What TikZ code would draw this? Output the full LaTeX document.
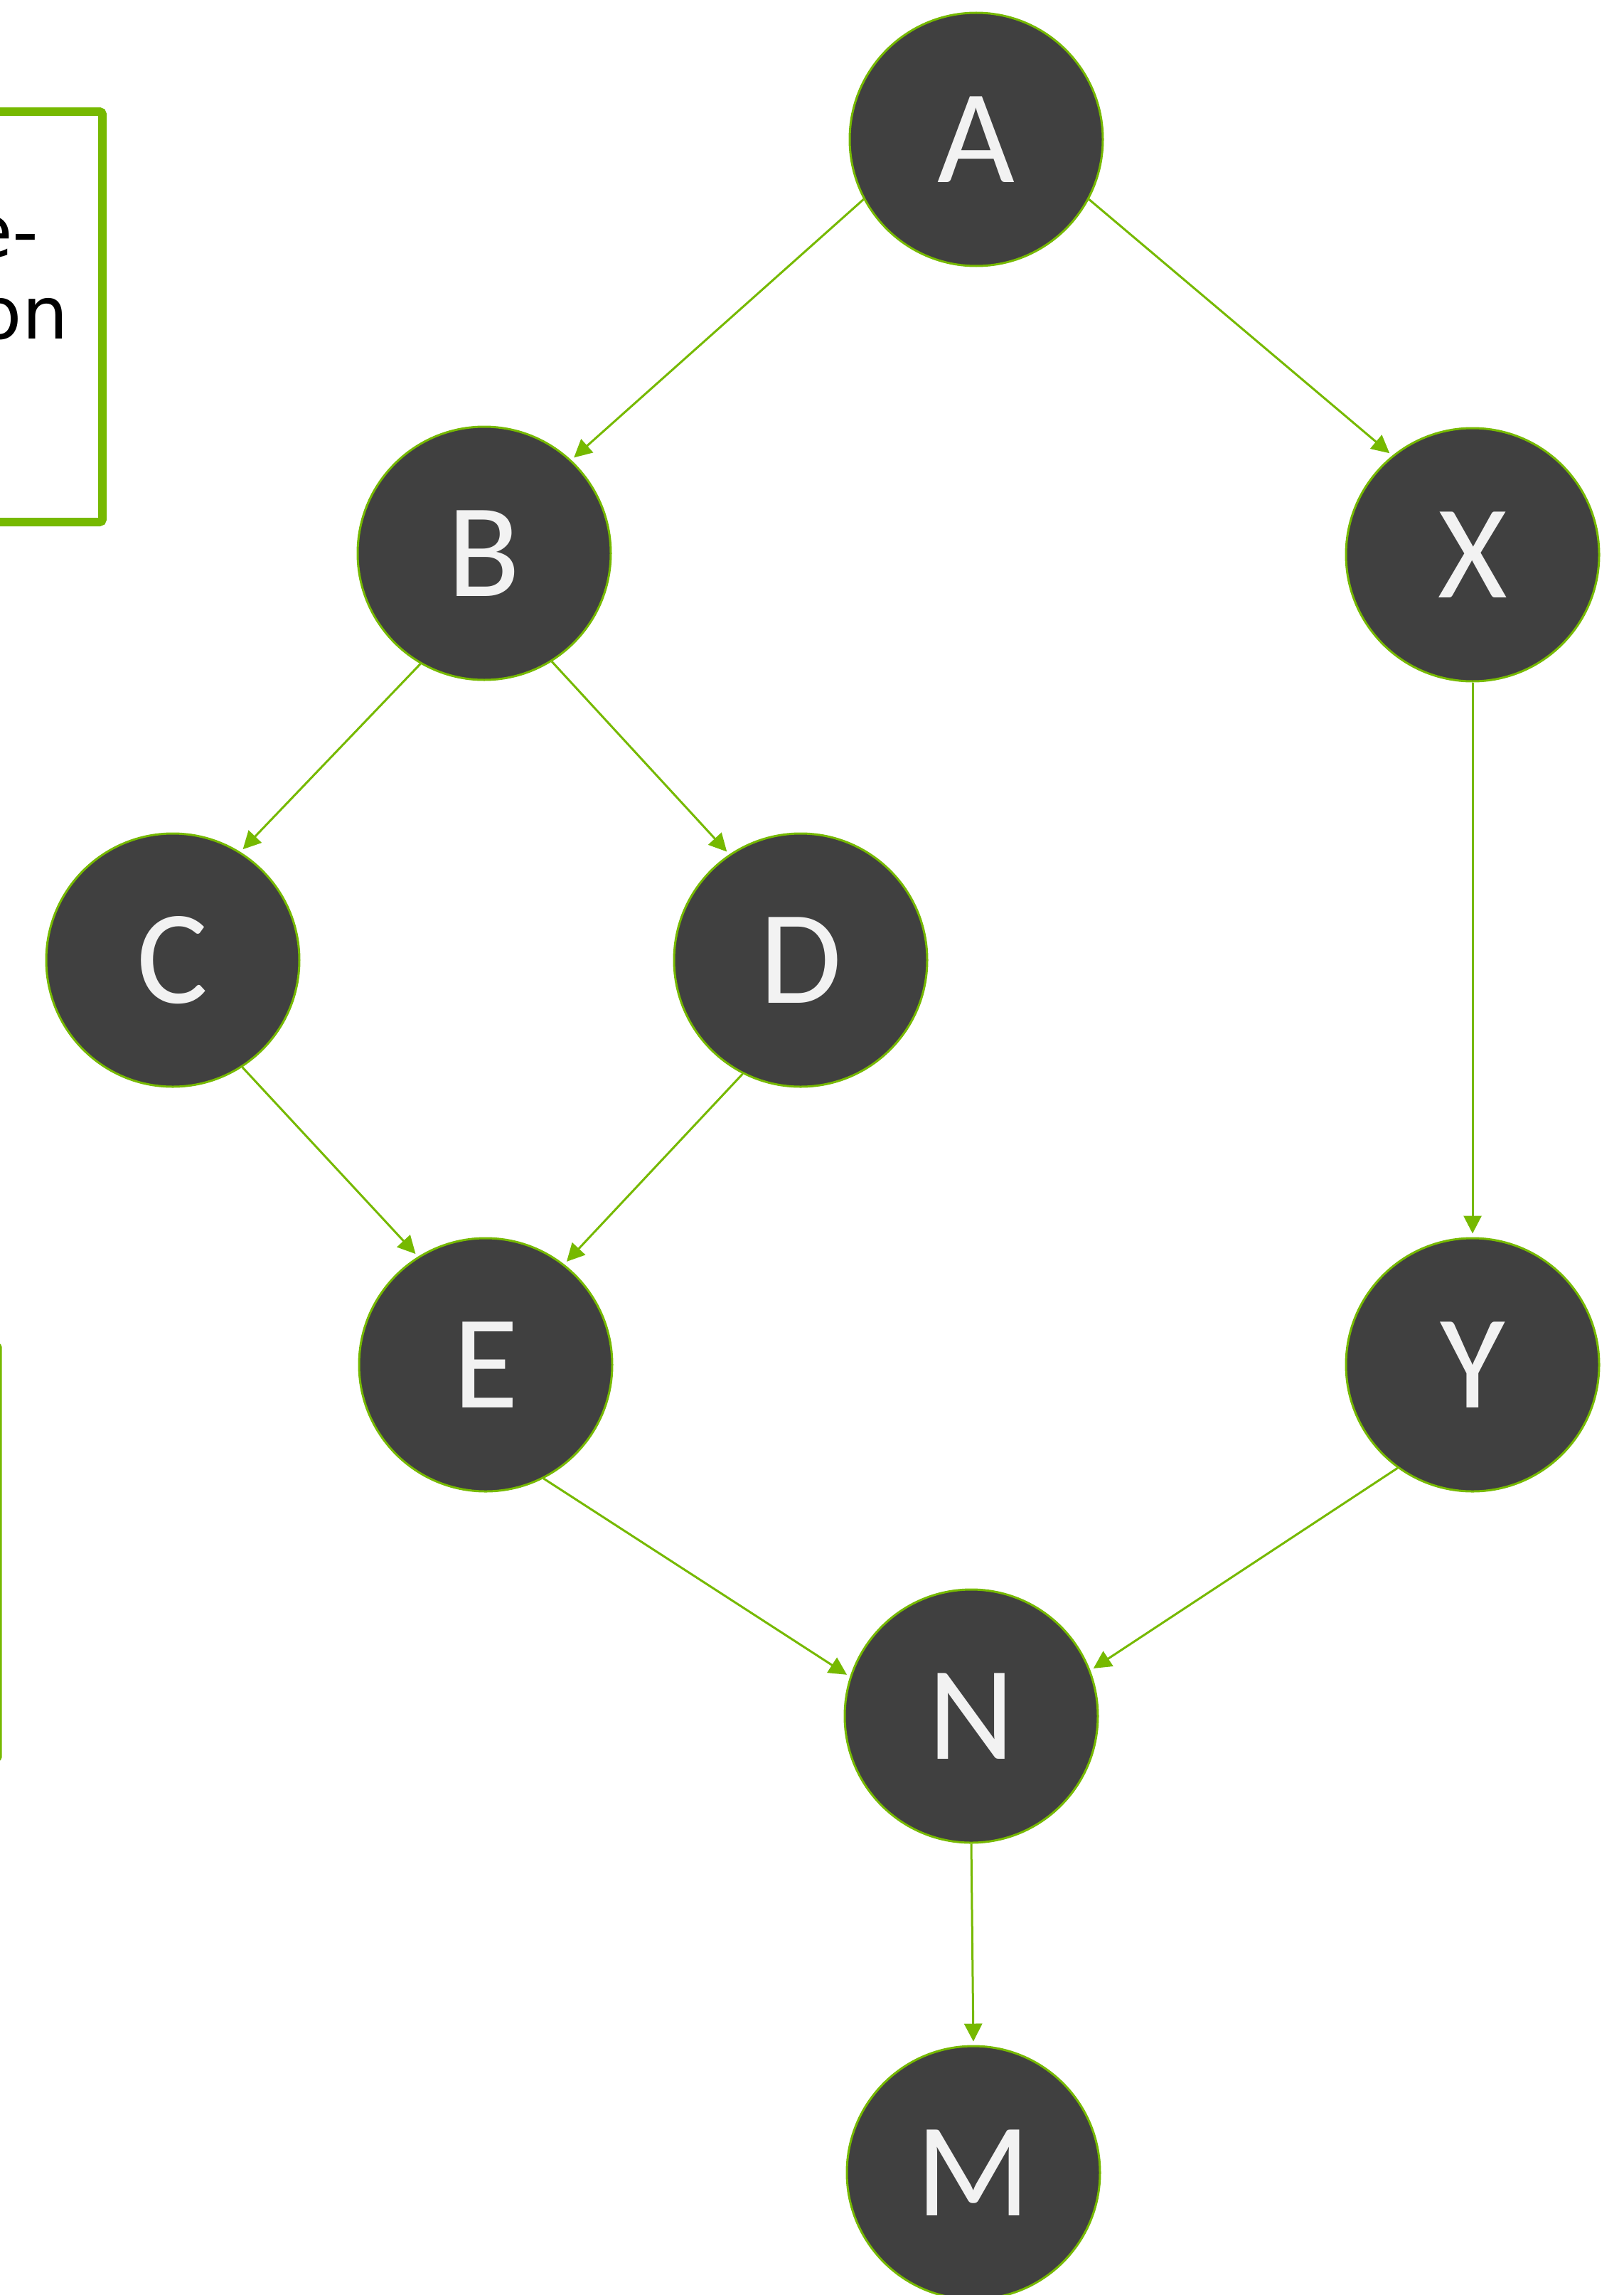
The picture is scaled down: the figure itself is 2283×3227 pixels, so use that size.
\documentclass[tikz,border=0pt]{standalone}
\usepackage{fontspec}
\setmainfont{Carlito}
\newfontfamily\boxfont{DejaVu Sans}
\usetikzlibrary{arrows.meta}
\definecolor{nvgreen}{HTML}{76B900}
\definecolor{nodefill}{HTML}{404040}
\definecolor{nodetext}{HTML}{F2F2F2}
\begin{document}
\begin{tikzpicture}[x=1pt,y=-1pt,
  vert/.style={circle, minimum size=356pt, inner sep=0pt, draw=nvgreen, line width=3pt,
    fill=nodefill, text=nodetext, font=\fontsize{188}{200}\selectfont},
  conn/.style={draw=nvgreen, line width=3pt, -{Triangle[length=25pt,width=25pt]}, shorten >=5pt},
  boxtext/.style={inner sep=0pt, anchor=base east, text=black, font=\boxfont\fontsize{102}{115}\selectfont},
  frame/.style={draw=nvgreen, rounded corners=4pt}
]
\useasboundingbox (0,0) rectangle (2283,3227);

% partial boxes at the left edge
\draw[frame, line width=12pt] (-60,157) rectangle (144,734);
\node[boxtext] (t1) at (55,361) {e-};
\node[boxtext] (t2) at (96,476) {on};
\draw[frame, line width=3pt] (-60,1890) rectangle (1,2475);

% nodes
\node[vert] (A) at (1373,196) {A};
\node[vert] (B) at (681,778) {B};
\node[vert] (X) at (2071,780) {X};
\node[vert] (C) at (243,1350) {C};
\node[vert] (D) at (1126,1350) {D};
\node[vert] (E) at (683,1919) {E};
\node[vert] (Y) at (2071,1919) {Y};
\node[vert] (N) at (1366,2413) {N};
\node[vert] (M) at (1369,3055) {M};

% connectors
\draw[conn] (A.208) -- (B.47);
\draw[conn] (A.332) -- (X.129);
\draw[conn] (B.240) -- (C.58);
\draw[conn] (B.302) -- (D.124);
\draw[conn] (C.303) -- (E.122);
\draw[conn] (D.243) -- (E.52);
\draw[conn] (X.270) -- (Y.90);
\draw[conn] (E.297) -- (N.162);
\draw[conn] (Y.234) -- (N.21);
\draw[conn] (N.270) -- (M.90);
\end{tikzpicture}
\end{document}
